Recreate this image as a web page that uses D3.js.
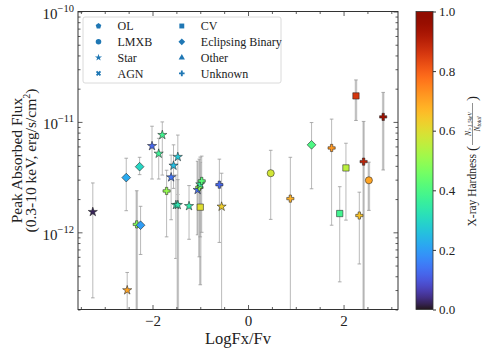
<!DOCTYPE html>
<html>
<head>
<meta charset="utf-8">
<script src="https://cdn.jsdelivr.net/npm/d3@7"></script>
<style>
  body { margin: 0; background: #fff; }
  svg text { font-family: "Liberation Serif", "DejaVu Serif", serif; fill: #222; }
</style>
</head>
<body>
<svg id="chart" width="485" height="353"></svg>
<script>
// values
const logFxFv  = [-3.25, -2.55, -2.53, -2.27, -2.33, -2.25, -2.01, -1.795, -1.87, -1.705, -1.61, -1.56, -1.47, -1.51, -1.47, -1.235,
                  -1.0, -1.055, -1.02, -1.0, -0.97, -0.6, -0.553, 0.475, 0.886, 1.33, 1.75, 1.92, 2.05, 2.26, 2.33, 2.42, 2.53, 2.83];
const peakFlux = [1.53e-12, 3.13e-12, 2.99e-13, 3.93e-12, 1.18e-12, 1.16e-12, 6.05e-12, 7.62e-12, 5.16e-12, 2.37e-12, 3.15e-12, 4.02e-12, 4.82e-12, 1.77e-12, 1.77e-12, 1.73e-12,
                  1.69e-12, 2.42e-12, 2.56e-12, 2.72e-12, 2.92e-12, 2.7e-12, 1.71e-12, 3.43e-12, 2.02e-12, 6.2e-12, 5.81e-12, 1.48e-12, 3.83e-12, 1.72e-11, 1.42e-12, 4.37e-12, 2.96e-12, 1.11e-11];
const fluxHi   = [2.8e-12, 4.69e-12, 4.33e-13, 4.78e-12, 2.38e-12, 1.72e-12, 9.14e-12, 1.0e-11, 7.1e-12, 3.65e-12, 5.0e-12, 6.2e-12, 7.6e-12, 3.3e-12, 3.0e-12, 2.65e-12,
                  4.3e-12, 4.4e-12, 4.6e-12, 4.8e-12, 4.9e-12, 4.6e-12, 3.43e-12, 5.53e-12, 4.78e-12, 9.87e-12, 1.06e-11, 2.59e-12, 6.41e-12, 2.4e-11, 2.31e-12, 1.01e-11, 4.32e-12, 1.85e-11];
const fluxLo   = [2.55e-13, 1.57e-12, 1e-13, 3.33e-12, 1e-13, 6.3e-13, 3.04e-12, 3.3e-12, 3.04e-12, 9.1e-13, 1.3e-12, 2.5e-12, 2.2e-12, 5.8e-13, 1e-13, 8.65e-13,
                  3.35e-13, 9.5e-13, 6.0e-13, 9.1e-13, 1.0e-12, 8.1e-13, 1e-13, 1.31e-12, 1e-13, 2.48e-12, 1.16e-12, 3.56e-13, 1.29e-12, 1.03e-11, 5.17e-13, 1e-13, 1.58e-12, 3.67e-12];
const hardness = [0.02, 0.22, 0.7, 0.3, 0.48, 0.2, 0.12, 0.38, 0.37, 0.5, 0.14, 0.25, 0.27, 0.33, 0.33, 0.34,
                  0.6, 0.13, 0.5, 0.36, 0.42, 0.12, 0.63, 0.58, 0.68, 0.4, 0.72, 0.38, 0.55, 0.86, 0.65, 0.9, 0.7, 0.95];
const srcType  = ["Star", "Eclipsing Binary", "Star", "Eclipsing Binary", "Unknown", "Eclipsing Binary", "Star", "Star", "Star", "Unknown", "Star", "Star", "Star", "Star", "Star", "Star",
                  "CV", "Star", "Unknown", "Star", "Unknown", "Unknown", "Star", "LMXB", "Unknown", "Eclipsing Binary", "Unknown", "CV", "CV", "CV", "Unknown", "Unknown", "LMXB", "Unknown"];
// low significance detections (drawn as the broad pale bars)
const lowSig   = [0, 0, 0, 0, 1, 0, 0, 0, 0, 0, 0, 0, 0, 0, 1, 0,
                  1, 1, 1, 0, 0, 0, 0, 0, 0, 0, 0, 0, 0, 1, 0, 1, 1, 1];
const legendTypes = ["OL", "LMXB", "Star", "AGN", "CV", "Eclipsing Binary", "Other", "Unknown"];
const yTicks = [1e-12, 1e-11, 1e-10];
const cbTicks = [0, 0.2, 0.4, 0.6, 0.8, 1.0];

const svg = d3.select("#chart");
const mLeft = 78, mRight = 398, mTop = 11.5, mBottom = 309.5;

const x = d3.scaleLinear().domain([-3.56, 3.14]).range([mLeft, mRight]);
const y = d3.scaleLog().domain([2e-13, 1e-10]).range([mBottom, mTop]);
const color = d3.interpolateTurbo;

const data = logFxFv.map((v, i) => ({
  x: v, y: peakFlux[i], hi: fluxHi[i], lo: fluxLo[i], h: hardness[i], type: srcType[i], wide: lowSig[i]
}));

svg.append("clipPath").attr("id", "clip")
  .append("rect").attr("x", mLeft).attr("y", mTop).attr("width", mRight - mLeft).attr("height", mBottom - mTop);

// marker shapes like matplotlib
function pentagon(r) {
  const pts = d3.range(5).map(k => {
    const a = -Math.PI / 2 + k * 2 * Math.PI / 5;
    return [r * Math.cos(a), r * Math.sin(a)];
  });
  return "M" + pts.join("L") + "Z";
}
function markerPath(type, s) {
  if (type === "OL") return pentagon(Math.sqrt(s) * 0.6);
  if (type === "LMXB") return d3.symbol(d3.symbolCircle, s)();
  if (type === "Star") return d3.symbol(d3.symbolStar, s * 0.65)();
  if (type === "AGN") return d3.symbol(d3.symbolCross, s * 0.7)();
  if (type === "CV") return d3.symbol(d3.symbolSquare, s)();
  if (type === "Eclipsing Binary") return d3.symbol(d3.symbolSquare, s * 0.95)();
  if (type === "Other") return d3.symbol(d3.symbolTriangle, s * 0.7)();
  return d3.symbol(d3.symbolCross, s * 0.72)();
}
function markerRot(type) {
  return (type === "Eclipsing Binary" || type === "AGN") ? 45 : 0;
}

const plot = svg.append("g").attr("clip-path", "url(#clip)");

// error bars
const eb = plot.selectAll(".eb").data(data).join("g").attr("class", "eb");
eb.filter(d => d.wide).append("line")
  .attr("x1", d => x(d.x)).attr("x2", d => x(d.x))
  .attr("y1", d => y(d.hi)).attr("y2", d => y(d.lo))
  .attr("stroke", "#d2d2d2").attr("stroke-width", 2.6);
eb.append("line")
  .attr("x1", d => x(d.x)).attr("x2", d => x(d.x))
  .attr("y1", d => y(d.hi)).attr("y2", d => y(d.lo))
  .attr("stroke", "#a8a8a8").attr("stroke-width", 0.8);
eb.append("line")
  .attr("x1", d => x(d.x) - 1.8).attr("x2", d => x(d.x) + 1.8)
  .attr("y1", d => y(d.hi)).attr("y2", d => y(d.hi))
  .attr("stroke", "#999").attr("stroke-width", 0.8);
eb.append("line")
  .attr("x1", d => x(d.x) - 1.8).attr("x2", d => x(d.x) + 1.8)
  .attr("y1", d => y(d.lo)).attr("y2", d => y(d.lo))
  .attr("stroke", "#999").attr("stroke-width", 0.8);

// markers
plot.selectAll(".pt").data(data).join("path").attr("class", "pt")
  .attr("d", d => markerPath(d.type, 40))
  .attr("transform", d => `translate(${x(d.x)},${y(d.y)}) rotate(${markerRot(d.type)})`)
  .attr("fill", d => color(d.h))
  .attr("stroke", "#222").attr("stroke-width", 0.55);

// axes (ticks pointing inward on all sides)
const xMinor = d3.range(-3.5, 3.01, 0.5).filter(v => Math.abs(v % 2) > 1e-6);
const yMinor = [];
[-13, -12, -11].forEach(e => d3.range(2, 10).forEach(m => {
  const v = m * Math.pow(10, e);
  if (v >= 2e-13 && v < 1e-10) yMinor.push(v);
}));

const fmtPow = (g, v) => {
  const t = g.select("text").text("");
  t.append("tspan").text("10");
  t.append("tspan").attr("dy", -7).attr("font-size", 10.5).text("\u2212" + Math.round(-Math.log10(v)));
};

svg.append("g").attr("transform", `translate(0,${mBottom})`)
  .call(d3.axisBottom(x).tickValues([-2, 0, 2]).tickSize(-4.5).tickPadding(6)
    .tickFormat(d => d < 0 ? "\u2212" + Math.abs(d) : d))
  .call(g => g.select(".domain").remove())
  .call(g => g.selectAll("text").attr("font-size", 15).attr("font-family", "Liberation Serif"));
svg.append("g").attr("transform", `translate(0,${mBottom})`)
  .call(d3.axisBottom(x).tickValues(xMinor).tickSize(-2.5).tickFormat(""))
  .call(g => g.select(".domain").remove());
svg.append("g").attr("transform", `translate(0,${mTop})`)
  .call(d3.axisTop(x).tickValues([-2, 0, 2]).tickSize(-4.5).tickFormat(""))
  .call(g => g.select(".domain").remove());
svg.append("g").attr("transform", `translate(0,${mTop})`)
  .call(d3.axisTop(x).tickValues(xMinor).tickSize(-2.5).tickFormat(""))
  .call(g => g.select(".domain").remove());

const yAx = svg.append("g").attr("transform", `translate(${mLeft},0)`)
  .call(d3.axisLeft(y).tickValues(yTicks).tickSize(-4.5).tickPadding(4))
  .call(g => g.select(".domain").remove());
yAx.selectAll(".tick").each(function(v) {
  fmtPow(d3.select(this), v);
});
yAx.selectAll("text").attr("font-size", 15).attr("font-family", "Liberation Serif").attr("dy", "0.45em");
svg.append("g").attr("transform", `translate(${mLeft},0)`)
  .call(d3.axisLeft(y).tickValues(yMinor).tickSize(-2.5).tickFormat(""))
  .call(g => g.select(".domain").remove());
svg.append("g").attr("transform", `translate(${mRight},0)`)
  .call(d3.axisRight(y).tickValues(yTicks).tickSize(-4.5).tickFormat(""))
  .call(g => g.select(".domain").remove());
svg.append("g").attr("transform", `translate(${mRight},0)`)
  .call(d3.axisRight(y).tickValues(yMinor).tickSize(-2.5).tickFormat(""))
  .call(g => g.select(".domain").remove());

svg.selectAll(".tick line").attr("stroke", "#333").attr("stroke-width", 0.8);

svg.append("rect").attr("x", mLeft).attr("y", mTop)
  .attr("width", mRight - mLeft).attr("height", mBottom - mTop)
  .attr("fill", "none").attr("stroke", "#333").attr("stroke-width", 1);

// axis labels
svg.append("text").attr("x", (mLeft + mRight) / 2).attr("y", 344)
  .attr("text-anchor", "middle").attr("font-size", 16.5).text("LogFx/Fv");
const yl = svg.append("text").attr("transform", `translate(22,${(mTop + mBottom) / 2}) rotate(-90)`)
  .attr("text-anchor", "middle").attr("font-size", 15.5);
yl.append("tspan").attr("x", 0).attr("dy", 0).text("Peak Absorbed Flux");
yl.append("tspan").attr("x", 0).attr("dy", 14).text("(0.3-10 keV, erg/s/cm");
yl.append("tspan").attr("dy", -6).attr("font-size", 10).text("2");
yl.append("tspan").attr("dy", 6).text(")");

// legend
const lg = svg.append("g");
lg.append("rect").attr("x", 83).attr("y", 17).attr("width", 198).attr("height", 66)
  .attr("rx", 2).attr("fill", "#fff").attr("stroke", "#d0d0d0").attr("stroke-width", 0.8);
legendTypes.forEach((t, i) => {
  const col = Math.floor(i / 4), row = i % 4;
  const mx = 98.5 + col * 83.3, my = 26 + row * 15.8;
  lg.append("path").attr("d", markerPath(t, 24))
    .attr("transform", `translate(${mx},${my}) rotate(${markerRot(t)})`)
    .attr("fill", "#1f77b4");
  lg.append("text").attr("x", mx + 19).attr("y", my).attr("dy", "0.35em")
    .attr("font-size", 12).text(t);
});

// colorbar
const cbX = 416, cbW = 17;
const cbY = d3.scaleLinear().domain([0, 1]).range([mBottom, mTop]);
const grad = svg.append("defs").append("linearGradient").attr("id", "turbo")
  .attr("x1", 0).attr("y1", 1).attr("x2", 0).attr("y2", 0);
d3.range(0, 1.0001, 0.02).forEach(t => {
  grad.append("stop").attr("offset", t).attr("stop-color", color(t));
});
svg.append("rect").attr("x", cbX).attr("y", mTop).attr("width", cbW).attr("height", mBottom - mTop)
  .attr("fill", "url(#turbo)").attr("stroke", "#333").attr("stroke-width", 0.8);
svg.append("g").attr("transform", `translate(${cbX + cbW},0)`)
  .call(d3.axisRight(cbY).tickValues(cbTicks).tickSize(3).tickPadding(3).tickFormat(d3.format(".1f")))
  .call(g => g.select(".domain").remove())
  .call(g => g.selectAll("text").attr("font-size", 13).attr("font-family", "Liberation Serif"))
  .call(g => g.selectAll("line").attr("stroke", "#333"));

// colorbar label, rotated; local x runs up the page
const cbl = svg.append("g").attr("transform", `translate(472,153) rotate(-90)`);
cbl.append("text").attr("x", -1).attr("y", 4).attr("text-anchor", "end").attr("font-size", 11.5).text("X-ray Hardness");
cbl.append("text").attr("x", 2).attr("y", 5).attr("font-size", 15).text("(");
const fr = cbl.append("g").attr("transform", "translate(29,0)");
const num = fr.append("text").attr("x", 0).attr("y", -1.5).attr("text-anchor", "middle").attr("font-size", 7.5).attr("font-style", "italic");
num.append("tspan").text("N");
num.append("tspan").attr("dy", 1.5).attr("font-size", 5.5).text(">1.5keV");
fr.append("line").attr("x1", -21).attr("x2", 21).attr("y1", 0.5).attr("y2", 0.5).attr("stroke", "#222").attr("stroke-width", 0.5);
const den = fr.append("text").attr("x", 0).attr("y", 7.5).attr("text-anchor", "middle").attr("font-size", 7.5).attr("font-style", "italic");
den.append("tspan").text("N");
den.append("tspan").attr("dy", 1.5).attr("font-size", 5.5).text("total");
cbl.append("text").attr("x", 52).attr("y", 5).attr("font-size", 15).text(")");
</script>
</body>
</html>
